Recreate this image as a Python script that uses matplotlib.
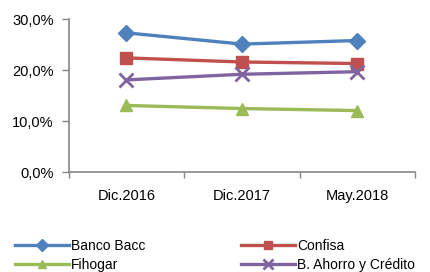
import matplotlib.pyplot as plt
from matplotlib.ticker import FuncFormatter

plt.rcParams['font.family'] = ['Liberation Sans', 'DejaVu Sans']

periods = ['Dic.2016', 'Dic.2017', 'May.2018']
banco_bacc = [27.3, 25.1, 25.8]
confisa = [22.4, 21.6, 21.3]
fihogar = [13.1, 12.5, 12.1]
ahorro_credito = [18.1, 19.2, 19.7]

series = [
    ('Banco Bacc', banco_bacc, '#4F81BD', 'D', 8),
    ('Confisa', confisa, '#C0504D', 's', 8),
    ('Fihogar', fihogar, '#9BBB59', '^', 8),
    ('B. Ahorro y Crédito', ahorro_credito, '#8064A2', 'x', 10),
]

fig = plt.figure(figsize=(4.3, 2.72), dpi=100)
ax = fig.add_axes([0.160, 0.366, 0.805, 0.564])

x = range(len(periods))
lines = []
for name, vals, col, mk, ms in series:
    ln, = ax.plot(x, vals, color=col, lw=2.4, marker=mk, markersize=ms,
                  markeredgewidth=2 if mk == 'x' else 1, label=name)
    lines.append(ln)

ax.set_ylim(0, 30)
ax.set_xlim(-0.5, 2.5)
ax.set_yticks([0, 10, 20, 30])
ax.yaxis.set_major_formatter(FuncFormatter(lambda v, p: f'{v:.1f}%'.replace('.', ',')))
ax.set_xticks(list(x))
ax.set_xticklabels(periods)
ax.set_xticks([-0.5, 0.5, 1.5, 2.5], minor=True)
ax.tick_params(axis='x', which='major', length=0, pad=12, labelsize=10.5)
ax.tick_params(axis='x', which='minor', length=4, color='#868686', width=1)
ax.tick_params(axis='y', length=5, color='#868686', width=1, pad=6, labelsize=10.5)

for s in ['top', 'right']:
    ax.spines[s].set_visible(False)
for s in ['left', 'bottom']:
    ax.spines[s].set_color('#868686')
    ax.spines[s].set_linewidth(1.2)

# row-wise order: Banco, Confisa / Fihogar, Ahorro
order = [0, 2, 1, 3]
fig.legend([lines[i] for i in order], [series[i][0] for i in order],
           loc='lower left', bbox_to_anchor=(0.005, -0.045), ncol=2, frameon=False,
           fontsize=10, handlelength=3.9, handletextpad=0.15, columnspacing=6.9,
           labelspacing=0.35, markerscale=0.75)

fig.savefig('out.png', dpi=100)
